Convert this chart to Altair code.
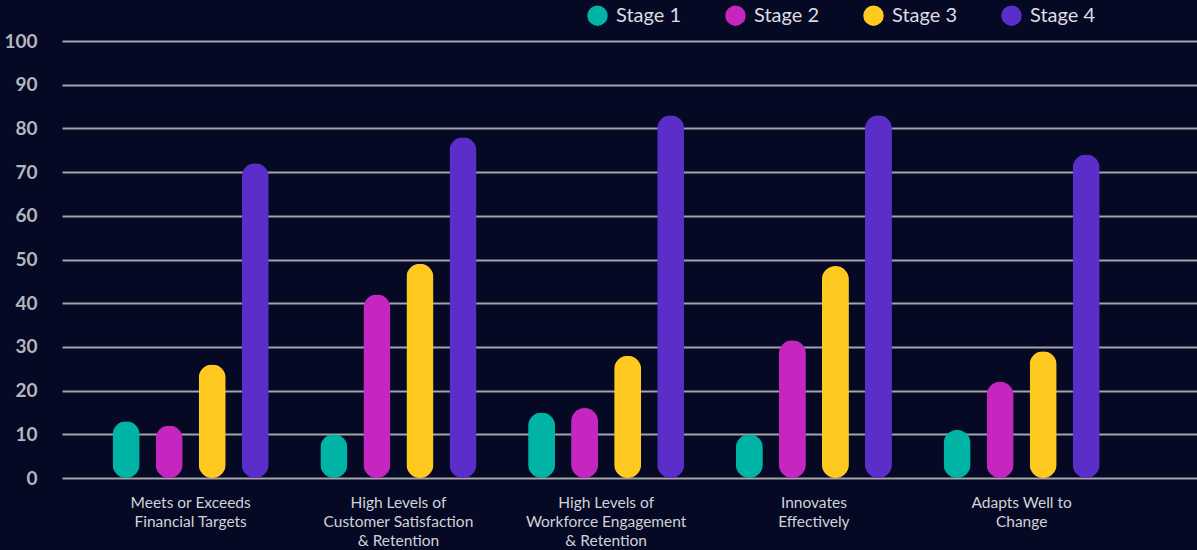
import inspect
import re

import altair as alt
import pandas as pd

# ---------------- data ----------------
categories = [
    "Meets or Exceeds|Financial Targets",
    "High Levels of|Customer Satisfaction|& Retention",
    "High Levels of|Workforce Engagement|& Retention",
    "Innovates|Effectively",
    "Adapts Well to|Change",
]
stages = ["Stage 1", "Stage 2", "Stage 3", "Stage 4"]
stage1 = [13, 10, 15, 10, 11]
stage2 = [12, 42, 16, 31.5, 22]
stage3 = [26, 49, 28, 48.5, 29]
stage4 = [72, 78, 83, 83, 74]
colors = ["#00B4A5", "#C426BF", "#FFC91F", "#5B2DC9"]
y_ticks = list(range(0, 101, 10))

rows = []
for s, vals in zip(stages, [stage1, stage2, stage3, stage4]):
    for c, v in zip(categories, vals):
        rows.append({"category": c, "stage": s, "value": v})
df = pd.DataFrame(rows)

BG = "#050923"
FONT = "Lato"

chart = (
    alt.Chart(df)
    .mark_bar(cornerRadius=13.5)
    .encode(
        x=alt.X(
            "category:N",
            sort=categories,
            scale=alt.Scale(paddingInner=0, paddingOuter=0.2318, align=0.2575),
            axis=alt.Axis(
                title=None,
                labelExpr="split(datum.label, '|')",
                labelAngle=0,
                labelFont=FONT,
                labelFontSize=15.5,
                labelColor="#d2d2da",
                labelLineHeight=19,
                labelPadding=17,
                labelBaseline="top",
                labelLimit=400,
                domain=False,
                ticks=False,
                grid=False,
            ),
        ),
        xOffset=alt.XOffset(
            "stage:N",
            sort=stages,
            scale=alt.Scale(paddingInner=0.372, paddingOuter=0.6),
        ),
        y=alt.Y(
            "value:Q",
            scale=alt.Scale(domain=[0, 100], nice=False),
            axis=alt.Axis(
                title=None,
                values=y_ticks,
                grid=True,
                gridColor="#a4a4ac",
                gridWidth=2,
                domain=False,
                ticks=False,
                labelFont=FONT,
                labelFontWeight="bold",
                labelFontSize=19,
                labelColor="#b6b6be",
                labelPadding=25,
            ),
        ),
        color=alt.Color(
            "stage:N",
            sort=stages,
            scale=alt.Scale(domain=stages, range=colors),
            legend=alt.Legend(
                title=None,
                orient="none",
                direction="horizontal",
                legendX=525,
                legendY=-36,
                symbolType="circle",
                symbolSize=420,
                symbolStrokeWidth=0,
                symbolOpacity=1,
                labelFont=FONT,
                labelFontSize=20,
                labelColor="#dcdce2",
                labelOffset=8,
                columnPadding=43,
                padding=0,
            ),
        ),
    )
    .properties(
        width=1135,
        height=437,
        background=BG,
        padding={"left": 62, "top": 41, "right": 0, "bottom": 72},
        autosize=alt.AutoSizeParams(type="none"),
    )
    .configure_view(strokeOpacity=0)
)

# page background matching the chart, no page margin
kwargs = {}
try:
    import jinja2
    import altair.utils.html as ahtml

    src = inspect.getsource(ahtml)
    m = re.search(r'HTML_TEMPLATE\s*=\s*jinja2\.Template\(\s*"""(.*?)"""', src, re.S)
    if m and "<style>" in m.group(1):
        body = m.group(1).replace(
            "<style>",
            "<style>\n    html, body { margin: 0; padding: 0; overflow: hidden; background: "
            + BG
            + "; }\n",
            1,
        )
        kwargs["template"] = jinja2.Template(body)
except Exception:
    kwargs = {}

try:
    chart.save("out.html", embed_options={"renderer": "svg", "actions": False}, **kwargs)
except Exception:
    chart.save("out.html", embed_options={"renderer": "svg", "actions": False})
